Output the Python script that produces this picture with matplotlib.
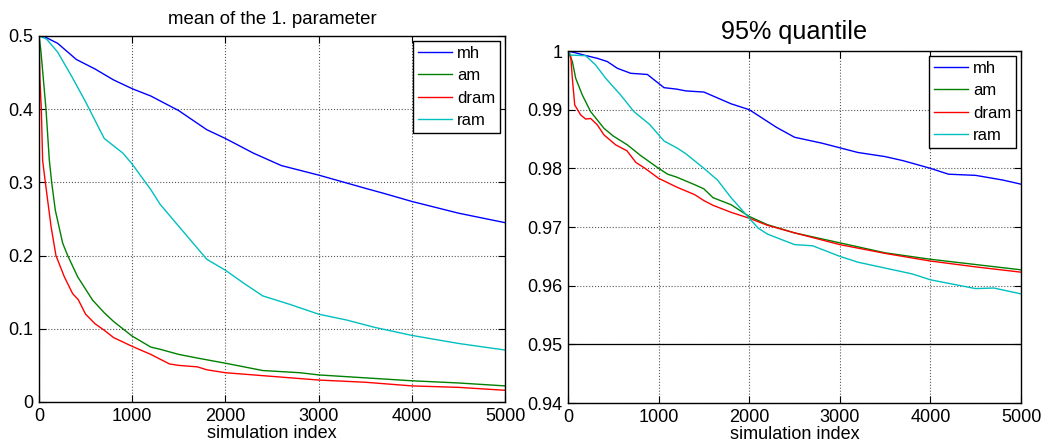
import matplotlib
matplotlib.use("Agg")
import matplotlib.pyplot as plt
from matplotlib.ticker import FuncFormatter

plt.rcParams['font.family'] = ['Liberation Sans', 'DejaVu Sans']

# ---- left panel: mean of the 1. parameter ----
mh_x = [0, 60, 200, 400, 600, 800, 1000, 1200, 1500, 1800, 2000, 2300, 2600, 3000, 3500, 3700, 4000, 4500, 5000]
mh_y = [0.5, 0.499, 0.49, 0.468, 0.455, 0.44, 0.428, 0.418, 0.398, 0.372, 0.36, 0.34, 0.323, 0.31, 0.292, 0.285, 0.274, 0.258, 0.245]

ram_x = [0, 80, 200, 350, 500, 700, 900, 1000, 1200, 1300, 1500, 1800, 2000, 2200, 2400, 2700, 3000, 3300, 3600, 4000, 4500, 5000]
ram_y = [0.5, 0.496, 0.478, 0.445, 0.41, 0.36, 0.34, 0.325, 0.29, 0.27, 0.24, 0.195, 0.18, 0.162, 0.145, 0.133, 0.12, 0.112, 0.102, 0.091, 0.08, 0.071]

am_x = [0, 20, 75, 111, 136, 175, 254, 308, 415, 576, 700, 800, 900, 1000, 1200, 1300, 1500, 1700, 2000, 2400, 2800, 3000, 3500, 4000, 4500, 5000]
am_y = [0.5, 0.48, 0.4, 0.33, 0.3, 0.262, 0.217, 0.2, 0.171, 0.139, 0.122, 0.11, 0.1, 0.09, 0.075, 0.072, 0.065, 0.06, 0.053, 0.043, 0.04, 0.037, 0.033, 0.029, 0.026, 0.022]

dram_x = [0, 10, 25, 39, 68, 129, 182, 272, 361, 420, 500, 600, 700, 800, 1000, 1200, 1400, 1500, 1700, 1800, 2000, 2500, 3000, 3500, 4000, 4500, 5000]
dram_y = [0.5, 0.44, 0.4, 0.33, 0.3, 0.24, 0.2, 0.171, 0.148, 0.14, 0.12, 0.107, 0.098, 0.088, 0.076, 0.065, 0.052, 0.05, 0.048, 0.044, 0.04, 0.035, 0.03, 0.027, 0.022, 0.02, 0.016]

# ---- right panel: 95% quantile ----
q_mh_x = [0, 80, 177, 324, 434, 545, 692, 876, 1060, 1200, 1300, 1500, 1800, 2000, 2300, 2500, 2800, 3000, 3200, 3500, 3700, 4000, 4200, 4500, 4800, 5000]
q_mh_y = [1.0, 0.9997, 0.9993, 0.99875, 0.9982, 0.99705, 0.9962, 0.996, 0.99375, 0.9935, 0.9932, 0.993, 0.991, 0.99, 0.987, 0.9853, 0.9843, 0.9835, 0.9827, 0.982, 0.9813, 0.98, 0.979, 0.9788, 0.978, 0.9773]

q_ram_x = [0, 29, 195, 306, 416, 581, 728, 900, 1060, 1200, 1300, 1500, 1650, 1800, 2000, 2100, 2200, 2500, 2700, 3000, 3200, 3500, 3800, 4000, 4500, 4700, 5000]
q_ram_y = [1.0, 0.9993, 0.9992, 0.9976, 0.99535, 0.9925, 0.98966, 0.9875, 0.98466, 0.9835, 0.9825, 0.98, 0.978, 0.975, 0.9715, 0.9698, 0.9688, 0.967, 0.9668, 0.965, 0.964, 0.963, 0.962, 0.961, 0.9595, 0.9596, 0.9586]

q_am_x = [0, 48, 85, 158, 250, 397, 500, 655, 800, 1000, 1100, 1200, 1400, 1500, 1600, 1800, 2000, 2200, 2500, 3000, 3500, 4000, 4500, 5000]
q_am_y = [1.0, 0.9982, 0.99535, 0.9925, 0.98966, 0.98682, 0.9855, 0.984, 0.9822, 0.98, 0.979, 0.9785, 0.9772, 0.9765, 0.975, 0.9738, 0.9718, 0.9704, 0.969, 0.9673, 0.9656, 0.9645, 0.9636, 0.9627]

q_dram_x = [0, 29, 48, 74, 140, 195, 250, 324, 397, 526, 650, 750, 850, 1000, 1200, 1400, 1500, 1600, 1800, 2000, 2200, 2500, 3000, 3500, 4000, 4500, 5000]
q_dram_y = [1.0, 0.9993, 0.99535, 0.9908, 0.9891, 0.9884, 0.9885, 0.9874, 0.9857, 0.984, 0.983, 0.981, 0.98, 0.9783, 0.9768, 0.9755, 0.9745, 0.9737, 0.9725, 0.9715, 0.9703, 0.969, 0.967, 0.9655, 0.9642, 0.9632, 0.9623]

ref_level = 0.95

labels = ['mh', 'am', 'dram', 'ram']
colors = ['#0000ff', '#008000', '#ff0000', '#00bfbf']

fig = plt.figure(figsize=(10.46, 4.43), dpi=100)
ax1 = fig.add_axes([39/1046, 1-402/443, (505-39)/1046, (402-36)/443])
ax2 = fig.add_axes([568/1046, 1-403/443, (1021-568)/1046, (403-51)/443])

def style(ax):
    ax.tick_params(direction='in', top=True, right=True, length=5, width=0.8, labelsize=13, pad=4)
    ax.grid(True, linestyle=':', color='0.35', linewidth=0.8)
    for s in ax.spines.values():
        s.set_linewidth(1.0)
    ax.set_xlim(0, 5000)
    ax.set_xticks([0, 1000, 2000, 3000, 4000, 5000])
    ax.set_xlabel('simulation index', fontsize=13, labelpad=0)
    ax.yaxis.set_major_formatter(FuncFormatter(lambda v, p: '%g' % round(v, 4)))

for (xs, ys), lab, c in zip([(mh_x, mh_y), (am_x, am_y), (dram_x, dram_y), (ram_x, ram_y)], labels, colors):
    ax1.plot(xs, ys, color=c, lw=1.0, label=lab)
ax1.set_ylim(0, 0.5)
ax1.set_yticks([0, 0.1, 0.2, 0.3, 0.4, 0.5])
style(ax1)
ax1.set_title('mean of the 1. parameter', fontsize=13.4, pad=9)

for (xs, ys), lab, c in zip([(q_mh_x, q_mh_y), (q_am_x, q_am_y), (q_dram_x, q_dram_y), (q_ram_x, q_ram_y)], labels, colors):
    ax2.plot(xs, ys, color=c, lw=1.0, label=lab)
ax2.axhline(ref_level, color='black', lw=0.9)
ax2.set_ylim(0.94, 1.0)
ax2.set_yticks([0.94, 0.95, 0.96, 0.97, 0.98, 0.99, 1.0])
style(ax2)
ax2.set_title('95% quantile', fontsize=18.2, pad=9)

for ax in (ax1, ax2):
    leg = ax.legend(loc='upper right', fontsize=12, fancybox=False, framealpha=1,
                    edgecolor='black', borderpad=0.3, labelspacing=0.44,
                    handlelength=2.0, handletextpad=0.3, borderaxespad=0.3)
    leg.get_frame().set_linewidth(1.0)

fig.savefig('out.png', dpi=100)
